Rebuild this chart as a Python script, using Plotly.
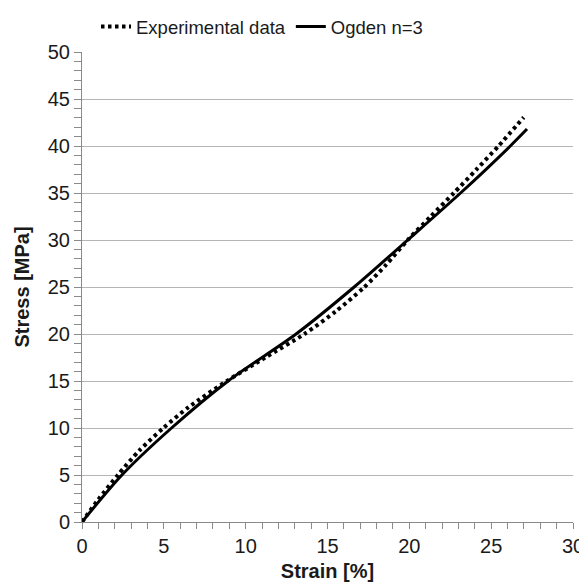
import plotly.graph_objects as go

# Experimental data (dotted)
exp_strain = [0, 1.0, 2.19, 3.5, 4.97, 6.5, 8.85, 11.2, 13.59, 15.5, 17.2, 18.6, 19.9, 21.3, 22.72, 24.1, 25.45, 26.99]
exp_stress = [0, 2.4, 5, 7.6, 10, 12.2, 15, 17.5, 20, 22.4, 24.9, 27.4, 30, 32.5, 35, 37.5, 40, 43.05]

# Ogden n=3 fit (solid)
ogd_strain = [0, 2.44, 5.47, 8.93, 13.08, 16.63, 19.9, 23.13, 26.17, 27.19]
ogd_stress = [0, 5, 10, 15, 20, 25, 30, 35, 40, 41.8]

x_ticks = [0, 5, 10, 15, 20, 25, 30]
y_ticks = [0, 5, 10, 15, 20, 25, 30, 35, 40, 45, 50]

FONT = "Liberation Sans, Arial, sans-serif"
AX = "#8a8a8a"

fig = go.Figure()
fig.add_trace(go.Scatter(
    x=exp_strain, y=exp_stress, mode="lines", name="Experimental data",
    line=dict(color="black", width=4, dash="3.5px,3.5px", shape="spline", smoothing=0.7),
))
fig.add_trace(go.Scatter(
    x=ogd_strain, y=ogd_stress, mode="lines", name="Ogden n=3",
    line=dict(color="black", width=3, shape="spline", smoothing=0.8),
))

# page body has an 8px margin: size the figure so the plot lands where the reference has it
fig.update_layout(
    width=579, height=576,
    margin=dict(l=74, r=14, t=44, b=62),
    paper_bgcolor="white", plot_bgcolor="white",
    font=dict(family=FONT, size=20, color="#1a1a1a"),
    showlegend=True,
    legend=dict(orientation="h", xref="container", x=0.152, xanchor="left",
                yref="container", y=1.0, yanchor="top",
                font=dict(size=18.5, color="#1a1a1a"), itemwidth=30,
                bgcolor="rgba(0,0,0,0)", borderwidth=0),
    xaxis=dict(
        range=[0, 30], tickvals=x_ticks, ticktext=[str(v) for v in x_ticks],
        showgrid=False, zeroline=False, automargin=False,
        showline=True, linecolor=AX, linewidth=1,
        ticks="outside", ticklen=6, tickcolor=AX,
        minor=dict(dtick=1, ticks="outside", ticklen=6, tickcolor=AX, showgrid=False),
        title=dict(text="<b>Strain [%]</b>", font=dict(size=20), standoff=7),
        tickfont=dict(size=20),
    ),
    yaxis=dict(
        range=[0, 50], tickvals=y_ticks, ticktext=[str(v) for v in y_ticks],
        showgrid=True, gridcolor="#b5b5b5", gridwidth=1, zeroline=False, automargin=False,
        showline=True, linecolor=AX, linewidth=1,
        ticks="outside", ticklen=7, tickcolor=AX,
        minor=dict(dtick=1, ticks="outside", ticklen=7, tickcolor=AX, showgrid=False),
        title=dict(text="<b>Stress [MPa]</b>", font=dict(size=20), standoff=12),
        tickfont=dict(size=20),
    ),
)

fig.write_html("out.html")
